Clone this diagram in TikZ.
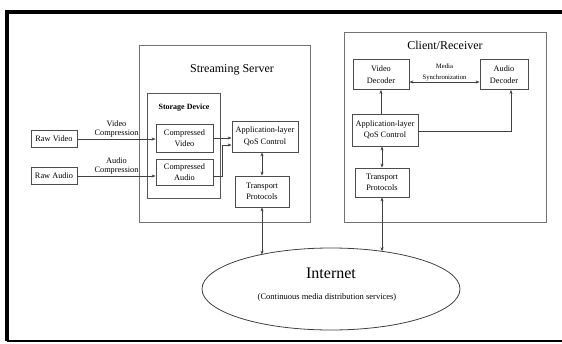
\documentclass[tikz,border=0pt]{standalone}
\usepackage{fontspec}
\setmainfont{Liberation Serif}
\usetikzlibrary{arrows.meta,shapes.geometric}
\begin{document}
\begin{tikzpicture}[x=1pt,y=-1pt,
  box/.style={draw=black!70,line width=0.8pt,inner sep=0pt,align=center,font=\fontsize{8.3}{11.5}\selectfont},
  grp/.style={draw=black!55,line width=1pt,inner sep=0pt},
  arr/.style={draw=black!75,line width=0.7pt,-{Stealth[length=4pt,width=3pt]}},
  darr/.style={draw=black!75,line width=0.7pt,{Stealth[length=4pt,width=3pt]}-{Stealth[length=4pt,width=3pt]}},
  lab/.style={inner sep=0.5pt,align=center,font=\fontsize{8.3}{9}\selectfont},
  ttl/.style={inner sep=0pt,font=\fontsize{12}{14}\selectfont}]
\useasboundingbox (0,0) rectangle (562,343);
\draw[line width=3.5pt] (562,12) -- (7,12) -- (7,341);
\draw[line width=1.6pt] (7,341) -- (562,341);

% groups
\node[grp,minimum width=171pt,minimum height=177pt] (server) at (224.5,133.5) {};
\node[ttl] (servertitle) at (232,70) {Streaming Server};
\node[grp,draw=black!65,line width=0.8pt,minimum width=73pt,minimum height=105pt] (storage) at (183.5,145.5) {};
\node[inner sep=0pt,font=\fontsize{8}{9}\selectfont\bfseries] (storagetitle) at (184,108) {Storage Device};

\node[grp,minimum width=202pt,minimum height=190pt] (client) at (445,127) {};
\node[ttl] (clienttitle) at (445,45) {Client/Receiver};

% server side boxes
\node[box,minimum width=46pt,minimum height=17pt] (rawv) at (54,139) {Raw Video};
\node[box,minimum width=46pt,minimum height=17pt] (rawa) at (54,176) {Raw Audio};
\node[box,minimum width=57pt,minimum height=28pt] (cv) at (184.5,138) {Compressed\\Video};
\node[box,minimum width=57pt,minimum height=26pt] (ca) at (184.5,172) {Compressed\\Audio};
\node[box,minimum width=66pt,minimum height=31pt] (sapp) at (265,136.5) {Application-layer\\QoS Control};
\node[box,minimum width=54pt,minimum height=31pt] (stp) at (262,191.5) {Transport\\Protocols};

% client side boxes
\node[box,minimum width=56pt,minimum height=30pt] (vd) at (381,74.5) {Video\\Decoder};
\node[box,minimum width=48pt,minimum height=30pt] (ad) at (504,74.5) {Audio\\Decoder};
\node[box,minimum width=66pt,minimum height=32pt] (capp) at (385,130) {Application-layer\\QoS Control};
\node[box,minimum width=54pt,minimum height=29pt] (ctp) at (382,182.5) {Transport\\Protocols};

% internet
\node[draw=black!75,line width=0.8pt,ellipse,minimum width=258pt,minimum height=82pt,inner sep=0pt] (inet) at (331,289) {};
\node[inner sep=0pt,font=\fontsize{16}{18}\selectfont] (inettitle) at (331,273) {Internet};
\node[inner sep=0pt,font=\fontsize{8.5}{10}\selectfont] (inetsub) at (327,297) {(Continuous media distribution services)};
\coordinate (e1) at (262,254.6);
\coordinate (e2) at (382,251.3);

% server connectors
\draw[arr] (rawv.east) -- node[lab,above,yshift=0.5pt] (vclab) {Video\\Compression} (rawv.east -| cv.west);
\draw[arr] (rawa.east) -- node[lab,above,yshift=0.5pt] (aclab) {Audio\\Compression} (rawa.east -| ca.west);
\draw[arr] (cv.east |- 0,138) -- (sapp.west |- 0,138);
\coordinate (bend1) at (222,176);
\coordinate (bend2) at (222,145);
\draw[arr] (ca.east |- 0,176) -- (bend1) -- (bend2) -- (sapp.west |- bend2);
\draw[darr] (sapp.south -| stp.north) -- (stp.north);
\draw[darr] (stp.south) -- (e1);

% client connectors
\draw[darr] (vd.east |- 0,82) -- node[lab,above,inner sep=1pt,font=\fontsize{6.7}{11}\selectfont] (msync) {Media\\Synchronization} (ad.west |- 0,82);
\draw[arr] (capp.north -| vd.south) -- (vd.south);
\coordinate (bend3) at (511,131);
\draw[arr] (capp.east |- bend3) -- (bend3) -- (bend3 |- ad.south);
\draw[darr] (ctp.north) -- (capp.south -| ctp.north);
\draw[darr] (ctp.south) -- (e2);
\end{tikzpicture}
\end{document}
